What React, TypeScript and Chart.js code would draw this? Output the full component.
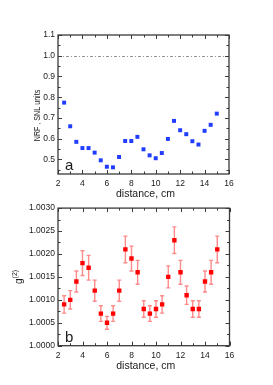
import React, { useEffect, useRef } from "react";
import { Chart, registerables } from "chart.js";

Chart.register(...registerables);

// ---- data ----
const distances = [2.5, 3, 3.5, 4, 4.5, 5, 5.5, 6, 6.5, 7, 7.5, 8, 8.5, 9, 9.5, 10, 10.5, 11, 11.5, 12, 12.5, 13, 13.5, 14, 14.5, 15];
const nrfValues = [0.774, 0.66, 0.585, 0.555, 0.555, 0.533, 0.496, 0.465, 0.462, 0.512, 0.589, 0.589, 0.609, 0.549, 0.52, 0.506, 0.531, 0.599, 0.686, 0.641, 0.622, 0.588, 0.572, 0.638, 0.667, 0.721];
const g2Values = [1.0009, 1.001, 1.0014, 1.0018, 1.0017, 1.0012, 1.0007, 1.0005, 1.0007, 1.0012, 1.0021, 1.0019, 1.0016, 1.0008, 1.0007, 1.0008, 1.0009, 1.0015, 1.0023, 1.0016, 1.0011, 1.0008, 1.0008, 1.0014, 1.0016, 1.0021];
const g2Errors = [0.00019, 0.0002, 0.00023, 0.00027, 0.00027, 0.00023, 0.00017, 0.00014, 0.00017, 0.00023, 0.00029, 0.00027, 0.00026, 0.00018, 0.00017, 0.00018, 0.00019, 0.00024, 0.00029, 0.00026, 0.0002, 0.00018, 0.00018, 0.00023, 0.00026, 0.00029];

const xMajorTicks = [2, 4, 6, 8, 10, 12, 14, 16];
const xMinorTicks = [3, 5, 7, 9, 11, 13, 15];
const nrfMajorTicks = [0.5, 0.6, 0.7, 0.8, 0.9, 1.0, 1.1];
const nrfMinorTicks = [0.45, 0.55, 0.65, 0.75, 0.85, 0.95, 1.05];
const g2MajorTicks = [1.0, 1.0005, 1.001, 1.0015, 1.002, 1.0025, 1.003];
const g2MinorTicks = [1.00025, 1.00075, 1.00125, 1.00175, 1.00225, 1.00275];

const xTitle = "distance, cm";
const nrfTitle = "NRF , SNL units";
const g2Title = "g";
const g2Sup = "(2)";
const referenceLevel = 1.0;

const FONT = "'Liberation Sans', Arial, sans-serif";
const TEXT = "#1a1a1a";
const FRAME = "#3a3a3a";

function framePlugin(xMaj: number[], xMin: number[], yMaj: number[], yMin: number[]) {
  return {
    id: "frameTicks",
    afterDatasetsDraw(chart: any) {
      const { ctx, chartArea: a, scales } = chart;
      const xs = scales.x;
      const ys = scales.y;
      ctx.save();
      ctx.strokeStyle = FRAME;
      ctx.lineWidth = 1;
      const tick = (vals: number[], len: number) => {
        vals.forEach((v) => {
          const px = Math.round(xs.getPixelForValue(v)) + 0.5;
          ctx.beginPath();
          ctx.moveTo(px, a.bottom);
          ctx.lineTo(px, a.bottom - len);
          ctx.moveTo(px, a.top);
          ctx.lineTo(px, a.top + len);
          ctx.stroke();
        });
      };
      const ytick = (vals: number[], len: number) => {
        vals.forEach((v) => {
          const py = Math.round(ys.getPixelForValue(v)) + 0.5;
          ctx.beginPath();
          ctx.moveTo(a.left, py);
          ctx.lineTo(a.left + len, py);
          ctx.moveTo(a.right, py);
          ctx.lineTo(a.right - len, py);
          ctx.stroke();
        });
      };
      tick(xMaj, 4);
      tick(xMin, 2.5);
      ytick(yMaj, 4);
      ytick(yMin, 2.5);
      ctx.lineWidth = 1.3;
      ctx.strokeRect(a.left, a.top, a.right - a.left, a.bottom - a.top);
      ctx.restore();
    },
  };
}

function textPlugin(kind: "a" | "b") {
  return {
    id: "labels" + kind,
    afterDraw(chart: any) {
      const { ctx, chartArea: a } = chart;
      ctx.save();
      ctx.fillStyle = TEXT;
      // x title
      ctx.font = `10.5px ${FONT}`;
      ctx.textAlign = "center";
      ctx.textBaseline = "middle";
      ctx.fillText(xTitle, (a.left + a.right) / 2 + 2, a.bottom + 20);
      // panel letter
      ctx.font = `15px ${FONT}`;
      ctx.textAlign = "left";
      ctx.textBaseline = "alphabetic";
      ctx.fillText(kind, a.left + 7, a.bottom - 4);
      // y title
      if (kind === "a") {
        ctx.translate(37, (a.top + a.bottom) / 2 + 11);
        ctx.rotate(-Math.PI / 2);
        ctx.scale(0.75, 1);
        ctx.font = `9.5px ${FONT}`;
        ctx.textAlign = "center";
        ctx.textBaseline = "middle";
        ctx.fillText(nrfTitle, 0, 0);
      } else {
        ctx.translate(18, (a.top + a.bottom) / 2);
        ctx.rotate(-Math.PI / 2);
        ctx.font = `10px ${FONT}`;
        ctx.textAlign = "left";
        ctx.textBaseline = "middle";
        const gw = ctx.measureText(g2Title).width;
        ctx.font = `7px ${FONT}`;
        const sw = ctx.measureText(g2Sup).width;
        const start = -(gw + sw) / 2;
        ctx.font = `10px ${FONT}`;
        ctx.fillText(g2Title, start, 1);
        ctx.font = `7px ${FONT}`;
        ctx.fillText(g2Sup, start + gw, -3);
      }
      ctx.restore();
    },
  };
}

const refLinePlugin = {
  id: "refLine",
  beforeDatasetsDraw(chart: any) {
    const { ctx, chartArea: a, scales } = chart;
    const py = Math.round(scales.y.getPixelForValue(referenceLevel)) + 0.5;
    ctx.save();
    ctx.strokeStyle = "#8a9696";
    ctx.lineWidth = 1;
    ctx.setLineDash([3, 2, 1, 2]);
    ctx.beginPath();
    ctx.moveTo(a.left, py);
    ctx.lineTo(a.right, py);
    ctx.stroke();
    ctx.restore();
  },
};

const errorBarPlugin = {
  id: "errorBars",
  beforeDatasetsDraw(chart: any) {
    const { ctx, scales } = chart;
    ctx.save();
    ctx.strokeStyle = "#ff8a8a";
    ctx.lineWidth = 1.4;
    distances.forEach((d, i) => {
      const px = scales.x.getPixelForValue(d);
      const top = scales.y.getPixelForValue(g2Values[i] + g2Errors[i]);
      const bot = scales.y.getPixelForValue(g2Values[i] - g2Errors[i]);
      ctx.beginPath();
      ctx.moveTo(px, top);
      ctx.lineTo(px, bot);
      ctx.moveTo(px - 2, top);
      ctx.lineTo(px + 2, top);
      ctx.moveTo(px - 2, bot);
      ctx.lineTo(px + 2, bot);
      ctx.stroke();
    });
    ctx.restore();
  },
};

function axisX(height: number) {
  return {
    type: "linear",
    min: 2,
    max: 16,
    grid: { display: false, drawTicks: false },
    border: { display: false },
    ticks: { padding: 5, color: TEXT, font: { size: 8.5, family: FONT }, maxRotation: 0 },
    afterBuildTicks: (s: any) => {
      s.ticks = xMajorTicks.map((v) => ({ value: v }));
    },
    afterFit: (s: any) => {
      s.height = height;
    },
  };
}

function axisY(min: number, max: number, ticks: number[], digits: number) {
  return {
    type: "linear",
    min,
    max,
    grid: { display: false, drawTicks: false },
    border: { display: false },
    ticks: {
      padding: 3,
      color: TEXT,
      font: { size: 8.5, family: FONT },
      callback: (v: any) => Number(v).toFixed(digits),
    },
    afterBuildTicks: (s: any) => {
      s.ticks = ticks.map((v) => ({ value: v }));
    },
    afterFit: (s: any) => {
      s.width = 58;
    },
  };
}

export default function App() {
  const topRef = useRef<HTMLCanvasElement>(null);
  const botRef = useRef<HTMLCanvasElement>(null);

  useEffect(() => {
    const c1 = new Chart(topRef.current as HTMLCanvasElement, {
      type: "scatter",
      data: {
        datasets: [
          {
            data: distances.map((d, i) => ({ x: d, y: nrfValues[i] })),
            backgroundColor: "#1f3cff",
            borderWidth: 0,
            pointStyle: "rect",
            pointRadius: 2.8,
          },
        ],
      },
      options: {
        animation: false,
        responsive: false,
        events: [],
        layout: { padding: { top: 35, right: 44, left: 0, bottom: 0 } },
        plugins: { legend: { display: false }, tooltip: { enabled: false } },
        scales: { x: axisX(26), y: axisY(0.43, 1.1, nrfMajorTicks, 1) } as any,
      },
      plugins: [refLinePlugin, framePlugin(xMajorTicks, xMinorTicks, nrfMajorTicks, nrfMinorTicks), textPlugin("a")],
    } as any);

    const c2 = new Chart(botRef.current as HTMLCanvasElement, {
      type: "scatter",
      data: {
        datasets: [
          {
            data: distances.map((d, i) => ({ x: d, y: g2Values[i] })),
            backgroundColor: "#ff0000",
            borderWidth: 0,
            pointStyle: "rect",
            pointRadius: 3.1,
          },
        ],
      },
      options: {
        animation: false,
        responsive: false,
        events: [],
        layout: { padding: { top: 6, right: 43.5, left: 0, bottom: 0 } },
        plugins: { legend: { display: false }, tooltip: { enabled: false } },
        scales: { x: axisX(39.3), y: axisY(1.0, 1.003, g2MajorTicks, 4) } as any,
      },
      plugins: [errorBarPlugin, framePlugin(xMajorTicks, xMinorTicks, g2MajorTicks, g2MinorTicks), textPlugin("b")],
    } as any);

    return () => {
      c1.destroy();
      c2.destroy();
    };
  }, []);

  return (
    <div style={{ position: "fixed", left: 0, top: 0, width: 273, height: 385, background: "#fff" }}>
      <canvas ref={topRef} width={273} height={200} style={{ position: "absolute", left: 0, top: 0, width: 273, height: 200 }} />
      <canvas ref={botRef} width={273} height={185} style={{ position: "absolute", left: 0, top: 200, width: 273, height: 185 }} />
    </div>
  );
}
